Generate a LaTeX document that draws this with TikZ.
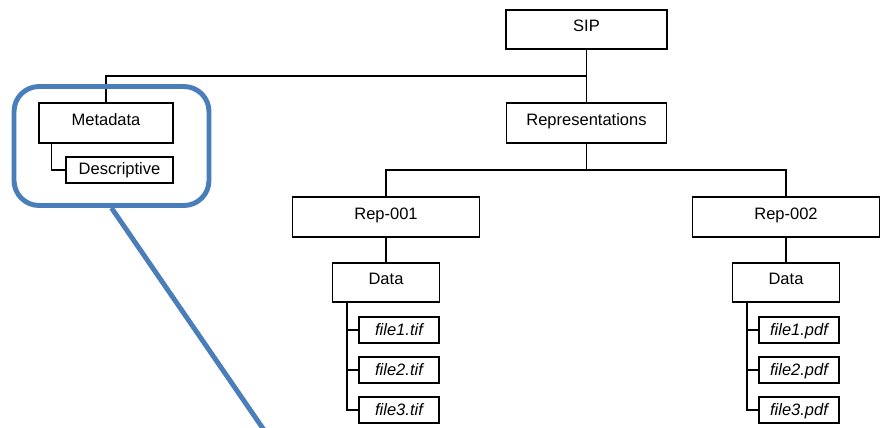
\documentclass[tikz,border=0pt]{standalone}
\usepackage{fontspec}
\setmainfont{Liberation Sans}
\usepackage{xcolor}
\usepackage{tikz}
\definecolor{callblue}{RGB}{74,126,187}

\begin{document}
\begin{tikzpicture}[x=0.02cm,y=-0.02cm,
  box/.style={draw,line width=0.6pt,inner sep=0pt,text height=6.7pt,text depth=4pt,font=\fontsize{9.4}{11}\selectfont},
  filebox/.style={box,minimum width=1.6cm,minimum height=0.52cm,text depth=0pt,font=\fontsize{9.4}{11}\selectfont\itshape},
  wire/.style={line width=0.6pt}]
\useasboundingbox (0,0) rectangle (882,427);
\node[box,minimum width=3.22cm,minimum height=0.78cm] (sip) at (586.5,29.5) {SIP};
\node[box,minimum width=3.2cm,minimum height=0.8cm] (repr) at (586.5,123) {Representations};
\node[box,minimum width=2.68cm,minimum height=0.8cm] (meta) at (106,123) {Metadata};
\node[box,minimum width=2.14cm,minimum height=0.52cm,text depth=1.5pt] (desc) at (119.5,170) {Descriptive};
\coordinate (topbus) at (586.5,76);
\draw[wire] (sip) -- (repr);
\draw[wire] (meta.north) |- (topbus);
\draw[wire] ([xshift=0.26cm]meta.south west) |- (desc.west);
\node[box,minimum width=3.74cm,minimum height=0.8cm] (rep1) at (386,217) {Rep-001};
\node[box,minimum width=3.74cm,minimum height=0.8cm] (rep2) at (786,217) {Rep-002};
\coordinate (repbus) at (586.5,170);
\draw[wire] (repr) -- (repbus);
\draw[wire] (rep1.north) |- (repbus) -| (rep2.north);
\begin{scope}
\node[box,minimum width=2.14cm,minimum height=0.78cm] (data1) at (386,282.5) {Data};
\draw[wire] (rep1.south) -- (data1.north);
\foreach \i/\y in {1/330,2/370,3/410}{
  \node[filebox] (tif\i) at (399,\y) {file\i.tif};
  \draw[wire] ([xshift=0.3cm]data1.south west) |- (tif\i.west);
}
\end{scope}
\begin{scope}
\node[box,minimum width=2.14cm,minimum height=0.78cm] (data2) at (786,282.5) {Data};
\draw[wire] (rep2.south) -- (data2.north);
\foreach \i/\y in {1/330,2/370,3/410}{
  \node[filebox] (pdf\i) at (799,\y) {file\i.pdf};
  \draw[wire] ([xshift=0.3cm]data2.south west) |- (pdf\i.west);
}
\end{scope}
\node[draw=callblue,line width=2.8pt,rounded corners=0.5cm,minimum width=3.9cm,minimum height=2.38cm] (focus) at (111.5,146) {};
\coordinate (tail) at (264,430);
\draw[callblue,line width=2.8pt] (focus.south) -- (tail);
\end{tikzpicture}
\end{document}
